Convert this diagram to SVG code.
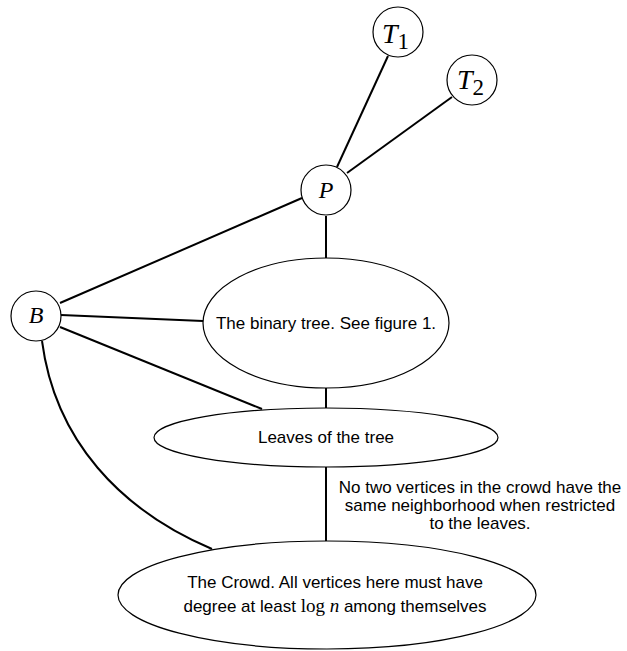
<svg xmlns="http://www.w3.org/2000/svg" width="627" height="651" viewBox="0 0 627 651">
<style>
.node{fill:#fff;stroke:#000;stroke-width:1.2}
.edge{fill:none;stroke:#000;stroke-width:2}
.lbl{font-family:"Liberation Sans",Arial,sans-serif;font-size:17px;fill:#000;text-anchor:middle}
.math{font-family:"Liberation Serif","Times New Roman",serif;font-style:italic;font-size:28px;fill:#000}
.sub{font-style:normal;font-size:23px}
.serif{font-family:"Liberation Serif","Times New Roman",serif;font-size:19px}
</style>
<rect width="627" height="651" fill="#fff"/>
<g id="connectors">
<line class="edge" x1="388" y1="56" x2="337" y2="167"/>
<line class="edge" x1="452" y1="97" x2="347" y2="173"/>
<line class="edge" x1="302" y1="198" x2="60" y2="303"/>
<line class="edge" x1="326" y1="216" x2="326" y2="258"/>
<line class="edge" x1="61" y1="315" x2="203" y2="321"/>
<line class="edge" x1="60" y1="327" x2="262" y2="409"/>
<line class="edge" x1="326" y1="388" x2="326" y2="408"/>
<line class="edge" x1="326" y1="467" x2="326" y2="541"/>
<path class="edge" d="M42,341 C55,440 120,510 212,549"/>
</g>
<g id="node-T1">
<circle class="node" cx="398" cy="32" r="25"/>
<text class="math" x="382" y="43">T<tspan class="sub" dy="6">1</tspan></text>
</g>
<g id="node-T2">
<circle class="node" cx="472" cy="80" r="25"/>
<text class="math" x="457" y="89">T<tspan class="sub" dy="6">2</tspan></text>
</g>
<g id="node-P">
<circle class="node" cx="326" cy="190" r="25"/>
<text class="math" x="326" y="198" style="font-size:24px;text-anchor:middle">P</text>
</g>
<g id="node-B">
<circle class="node" cx="36" cy="316" r="25"/>
<text class="math" x="36" y="323" style="font-size:24px;text-anchor:middle">B</text>
</g>
<g id="node-binary-tree">
<ellipse class="node" cx="326" cy="323" rx="123" ry="65"/>
<text class="lbl" x="326" y="329">The binary tree. See figure 1.</text>
</g>
<g id="node-leaves">
<ellipse class="node" cx="326" cy="437.5" rx="172" ry="29.5"/>
<text class="lbl" x="326" y="443">Leaves of the tree</text>
</g>
<g id="node-crowd">
<ellipse class="node" cx="327" cy="595" rx="209" ry="54"/>
<text class="lbl" x="335" y="588">The Crowd. All vertices here must have</text>
<text class="lbl" x="335" y="612">degree at least <tspan class="serif">log</tspan> <tspan class="serif" style="font-style:italic">n</tspan> among themselves</text>
</g>
<g id="annotation">
<text class="lbl" x="480" y="493">No two vertices in the crowd have the</text>
<text class="lbl" x="480" y="511">same neighborhood when restricted</text>
<text class="lbl" x="480" y="529">to the leaves.</text>
</g>
</svg>
